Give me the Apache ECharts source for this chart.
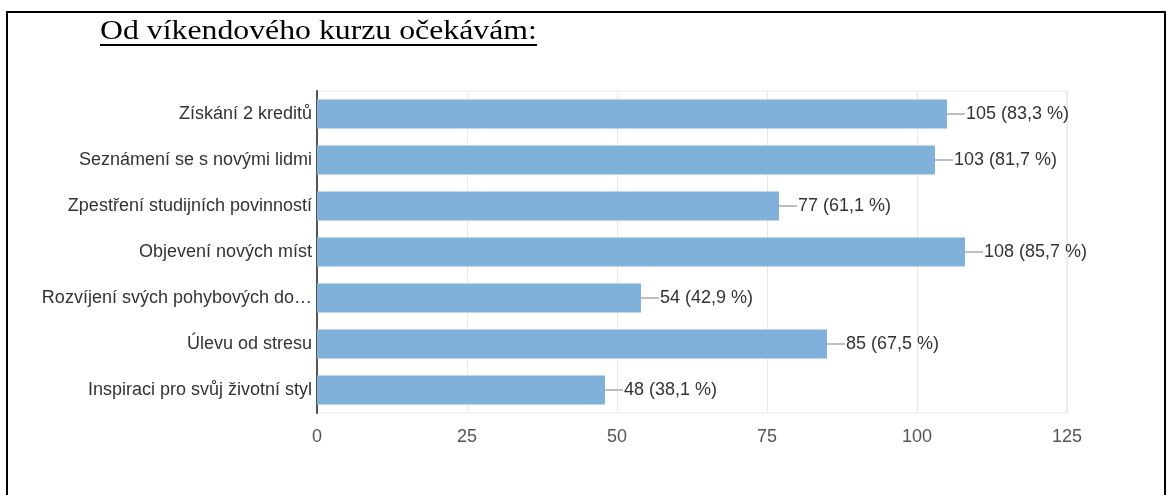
<!DOCTYPE html>
<html>
<head>
<meta charset="utf-8">
<script src="https://cdn.jsdelivr.net/npm/echarts@6/dist/echarts.min.js"></script>
<style>
  html, body { margin: 0; padding: 0; background: #fff; }
  #chart { width: 1169px; height: 495px; }
</style>
</head>
<body>
<div id="chart"></div>
<script>
// data
var titleText = "Od víkendového kurzu očekávám:";
var categories = [
  "Získání 2 kreditů",
  "Seznámení se s novými lidmi",
  "Zpestření studijních povinností",
  "Objevení nových míst",
  "Rozvíjení svých pohybových do…",
  "Úlevu od stresu",
  "Inspiraci pro svůj životní styl"
];
var counts = [105, 103, 77, 108, 54, 85, 48];
var percents = [83.3, 81.7, 61.1, 85.7, 42.9, 67.5, 38.1];
var xTicks = [0, 25, 50, 75, 100, 125];

var myChart = echarts.init(document.getElementById("chart"));

var option = {
  animation: false,
  graphic: [
    {
      // page frame
      type: "rect",
      shape: { x: 7, y: 12, width: 1158, height: 520 },
      style: { fill: "none", stroke: "#000", lineWidth: 2 },
      silent: true
    },
    {
      // heading, a little wider than the font gives
      type: "text",
      x: 100,
      y: 18,
      scaleX: 1.135,
      style: {
        text: titleText,
        font: '28px "Liberation Serif"',
        fill: "#000",
        verticalAlign: "top"
      },
      silent: true
    },
    {
      // underline
      type: "rect",
      shape: { x: 100, y: 44, width: 437, height: 2 },
      style: { fill: "#000" },
      silent: true
    }
  ],
  grid: {
    left: 317,
    right: 102,
    top: 91,
    bottom: 82,
    show: true,
    borderColor: "#e8e8e8",
    borderWidth: 1
  },
  xAxis: {
    type: "value",
    min: xTicks[0],
    max: xTicks[xTicks.length - 1],
    interval: 25,
    axisLine: { show: false },
    axisTick: { show: false },
    axisLabel: {
      margin: 15,
      fontFamily: "Liberation Sans",
      fontSize: 18,
      color: "#555"
    },
    splitLine: { lineStyle: { color: "#e8e8e8", width: 1 } }
  },
  yAxis: {
    type: "category",
    inverse: true,
    data: categories,
    axisLine: { show: true, lineStyle: { color: "#555", width: 2 } },
    axisTick: { show: false },
    axisLabel: {
      margin: 5,
      fontFamily: "Liberation Sans",
      fontSize: 18,
      color: "#333"
    }
  },
  series: [
    {
      type: "bar",
      data: counts,
      barWidth: 29,
      itemStyle: { color: "#80b1da" },
      label: {
        show: true,
        position: "right",
        distance: 0,
        formatter: function (p) {
          var pct = percents[p.dataIndex].toFixed(1).replace(".", ",");
          return "{l|}{t|" + p.value + " (" + pct + " %)}";
        },
        rich: {
          l: { width: 18, height: 1.5, backgroundColor: "#aaa" },
          t: {
            fontFamily: "Liberation Sans",
            fontSize: 18,
            color: "#333",
            padding: [0, 0, 0, 1]
          }
        }
      }
    }
  ]
};

myChart.setOption(option);
</script>
</body>
</html>
